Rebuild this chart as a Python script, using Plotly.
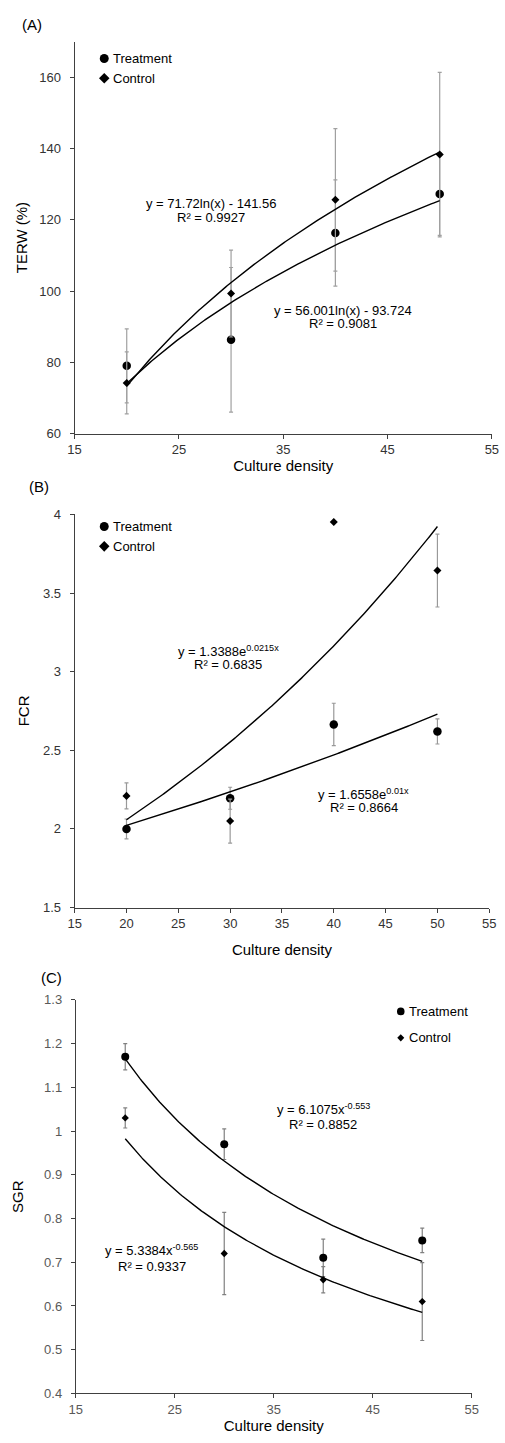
import numpy as np
import plotly.graph_objects as go

# ---------------- data ----------------
density = [20, 30, 40, 50]

terw_treat = [79.0, 86.3, 116.3, 127.2]
terw_treat_err = [10.4, 20.3, 14.9, 11.6]
terw_ctrl = [74.2, 99.3, 125.6, 138.3]
terw_ctrl_err = [8.7, 12.2, 20.0, 23.1]

fcr_treat = [2.00, 2.195, 2.664, 2.62]
fcr_treat_err = [0.063, 0.07, 0.135, 0.08]
fcr_ctrl = [2.21, 2.05, 3.952, 3.643]
fcr_ctrl_err = [0.083, 0.14, 0.0, 0.232]

sgr_treat = [1.17, 0.97, 0.71, 0.75]
sgr_treat_err = [0.03, 0.035, 0.043, 0.028]
sgr_ctrl = [1.03, 0.72, 0.66, 0.61]
sgr_ctrl_err = [0.023, 0.094, 0.03, 0.089]

# trendline coefficients (as printed on the chart)
terw_fit_treat = [56.001, -93.724]   # a*ln(x)+b
terw_fit_ctrl = [71.72, -141.56]
fcr_fit_treat = [1.6558, 0.01]       # a*exp(b*x)
fcr_fit_ctrl = [1.3388, 0.0215]
sgr_fit_treat = [6.1075, -0.553]     # a*x^b
sgr_fit_ctrl = [5.3384, -0.565]

terw_eq = ["y = 71.72ln(x) - 141.56", "R² = 0.9927", "y = 56.001ln(x) - 93.724", "R² = 0.9081"]
fcr_eq = ["y = 1.3388e<sup>0.0215x</sup>", "R² = 0.6835", "y = 1.6558e<sup>0.01x</sup>", "R² = 0.8664"]
sgr_eq = ["y = 6.1075x<sup>-0.553</sup>", "R² = 0.8852", "y = 5.3384x<sup>-0.565</sup>", "R² = 0.9337"]

series_names = ["Treatment", "Control"]
panel_labels = ["(A)", "(B)", "(C)"]
y_titles = ["TERW (%)", "FCR", "SGR"]
x_title = "Culture density"

# ---------------- figure ----------------
W, H = 505, 1443
FONT = "Liberation Sans, Arial, sans-serif"

xs = np.linspace(min(density), max(density), 200)

fig = go.Figure()


def px_x(p):
    return p / W


def px_y(p):
    return 1 - p / H


panels = [
    dict(xa="x", ya="y", t=terw_treat, te=terw_treat_err, c=terw_ctrl, ce=terw_ctrl_err,
         ft=terw_fit_treat[0] * np.log(xs) + terw_fit_treat[1],
         fc=terw_fit_ctrl[0] * np.log(xs) + terw_fit_ctrl[1], ecol="#a0a0a0", cs=8.5, ds=6.2),
    dict(xa="x2", ya="y2", t=fcr_treat, te=fcr_treat_err, c=fcr_ctrl, ce=fcr_ctrl_err,
         ft=fcr_fit_treat[0] * np.exp(fcr_fit_treat[1] * xs),
         fc=fcr_fit_ctrl[0] * np.exp(fcr_fit_ctrl[1] * xs), ecol="#999999", cs=8.5, ds=6.2),
    dict(xa="x3", ya="y3", t=sgr_treat, te=sgr_treat_err, c=sgr_ctrl, ce=sgr_ctrl_err,
         ft=sgr_fit_treat[0] * xs ** sgr_fit_treat[1],
         fc=sgr_fit_ctrl[0] * xs ** sgr_fit_ctrl[1], ecol="#808080", cs=8, ds=5.6),
]

for i, p in enumerate(panels):
    fig.add_trace(go.Scatter(
        x=density, y=p["t"], mode="markers", name=series_names[0], showlegend=False,
        marker=dict(symbol="circle", size=p["cs"], color="black"),
        error_y=dict(type="data", array=p["te"], color=p["ecol"], thickness=1.2, width=2),
        xaxis=p["xa"], yaxis=p["ya"]))
    fig.add_trace(go.Scatter(
        x=density, y=p["c"], mode="markers", name=series_names[1], showlegend=False,
        marker=dict(symbol="diamond", size=p["ds"], color="black"),
        error_y=dict(type="data", array=p["ce"], color=p["ecol"], thickness=1.2, width=2),
        xaxis=p["xa"], yaxis=p["ya"]))
    fig.add_trace(go.Scatter(x=xs, y=p["ft"], mode="lines", line=dict(color="black", width=1.4),
                             showlegend=False, hoverinfo="skip", xaxis=p["xa"], yaxis=p["ya"]))
    fig.add_trace(go.Scatter(x=xs, y=p["fc"], mode="lines", line=dict(color="black", width=1.4),
                             showlegend=False, hoverinfo="skip", xaxis=p["xa"], yaxis=p["ya"]))

axis_common = dict(showline=True, linecolor="#404040", linewidth=1, ticks="outside", ticklen=4,
                   tickcolor="#404040", showgrid=False, zeroline=False, fixedrange=True)

tick_dark = dict(size=13, color="#333333", family=FONT)
tick_gray = dict(size=13, color="#595959", family=FONT)
title_font = dict(size=15, color="black", family=FONT)

fig.update_layout(
    width=W, height=H, autosize=False,
    margin=dict(l=0, r=0, t=0, b=0),
    paper_bgcolor="white", plot_bgcolor="white",
    font=dict(family=FONT, size=13, color="black"),
    showlegend=False,
    xaxis=dict(axis_common, domain=[px_x(69.5), px_x(498.7)], range=[15, 55], tickvals=[15, 25, 35, 45, 55],
               tickfont=tick_dark, anchor="y",
               title=dict(text=x_title, font=title_font, standoff=1)),
    yaxis=dict(axis_common, domain=[px_y(431), px_y(35)], range=[60, 170], tickvals=[60, 80, 100, 120, 140, 160],
               tickfont=tick_dark, anchor="x", ticklabelstandoff=6,
               title=dict(text=y_titles[0], font=title_font, standoff=8)),
    xaxis2=dict(axis_common, domain=[px_x(69.6), px_x(496)], range=[15, 55],
                tickvals=[15, 20, 25, 30, 35, 40, 45, 50, 55],
                tickfont=tick_dark, anchor="y2",
                title=dict(text=x_title, font=title_font, standoff=14)),
    yaxis2=dict(axis_common, domain=[px_y(910), px_y(512.7)], range=[1.5, 4], tickvals=[1.5, 2, 2.5, 3, 3.5, 4],
                ticktext=["1.5", "2", "2.5", "3", "3.5", "4"],
                tickfont=tick_dark, anchor="x2", ticklabelstandoff=6,
                title=dict(text=y_titles[1], font=title_font, standoff=9)),
    xaxis3=dict(axis_common, domain=[px_x(70.7), px_x(478)], range=[15, 55], tickvals=[15, 25, 35, 45, 55],
                tickfont=tick_gray, anchor="y3",
                title=dict(text=x_title, font=title_font, standoff=1)),
    yaxis3=dict(axis_common, domain=[px_y(1401), px_y(1003.3)], range=[0.4, 1.3],
                tickvals=[0.4, 0.5, 0.6, 0.7, 0.8, 0.9, 1.0, 1.1, 1.2, 1.3],
                ticktext=["0.4", "0.5", "0.6", "0.7", "0.8", "0.9", "1", "1.1", "1.2", "1.3"],
                tickfont=tick_gray, anchor="x3", ticklabelstandoff=6,
                title=dict(text=y_titles[2], font=title_font, standoff=16)),
)

ann = []
shapes = []
# panel labels
for lab, (px, py) in zip(panel_labels, [(25.5, 18), (33, 485), (46, 981)]):
    ann.append(dict(text=lab, x=px_x(px), y=px_y(py), xref="paper", yref="paper",
                    showarrow=False, xanchor="center", yanchor="middle",
                    font=dict(size=15, color="black", family=FONT)))

# legends (marker centre x, text left x, row y's, circle radius, diamond half-size)
legend_specs = [
    (100, 107, [52, 72], 4.6, 5.4),
    (100, 107, [525, 545], 4.6, 5.4),
    (405, 411, [1015, 1041.7], 3.9, 3.6),
]
for mx, tx, rows, rc, rd in legend_specs:
    yc, yd = rows
    shapes.append(dict(type="circle", xref="paper", yref="paper",
                       x0=px_x(mx - rc), x1=px_x(mx + rc), y0=px_y(yc + rc), y1=px_y(yc - rc),
                       fillcolor="black", line=dict(width=0)))
    path = "M {},{} L {},{} L {},{} L {},{} Z".format(
        px_x(mx - rd), px_y(yd), px_x(mx), px_y(yd - rd), px_x(mx + rd), px_y(yd), px_x(mx), px_y(yd + rd))
    shapes.append(dict(type="path", xref="paper", yref="paper", path=path,
                       fillcolor="black", line=dict(width=0)))
    for name, ry in zip(series_names, rows):
        ann.append(dict(text=name, x=px_x(tx), y=px_y(ry), xref="paper", yref="paper",
                        showarrow=False, xanchor="left", yanchor="middle",
                        font=dict(size=13, color="black", family=FONT)))

eq_specs = [
    ("x", "y", terw_eq, [(28.1, 124.6), (28.1, 120.7), (40.7, 94.6), (40.7, 90.75)]),
    ("x2", "y2", fcr_eq, [(29.8, 3.134), (29.8, 3.046), (42.9, 2.22), (42.9, 2.139)]),
    ("x3", "y3", sgr_eq, [(40.0, 1.05), (40.0, 1.016), (22.68, 0.727), (22.68, 0.6896)]),
]
for xr, yr, texts, pos in eq_specs:
    for t, (ex, ey) in zip(texts, pos):
        ann.append(dict(text=t, x=ex, y=ey, xref=xr, yref=yr, showarrow=False,
                        xanchor="center", yanchor="middle",
                        font=dict(size=13, color="black", family=FONT)))
fig.update_layout(annotations=ann, shapes=shapes)

fig.write_html("out.html", config={"displayModeBar": False},
               post_script="document.body.style.margin='0';")
